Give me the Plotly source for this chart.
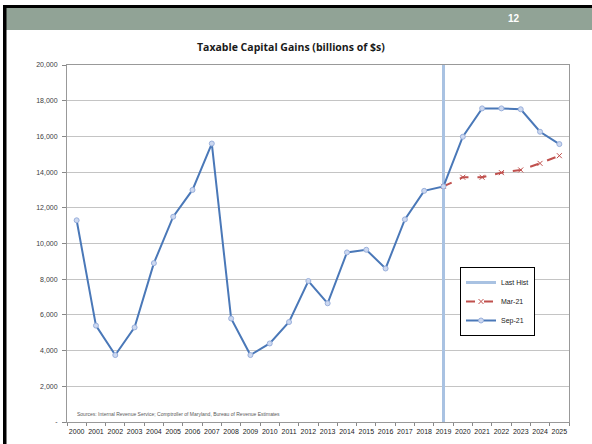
import plotly.graph_objects as go

years = [str(y) for y in range(2000, 2026)]
sep21 = [11300, 5400, 3750, 5300, 8900, 11500, 13000, 15600, 5800, 3750,
         4400, 5600, 7900, 6650, 9500, 9650, 8600, 11350, 12950, 13200,
         15980, 17570, 17570, 17520, 16260, 15570]
mar21_years = [str(y) for y in range(2019, 2026)]
mar21 = [13200, 13710, 13710, 13970, 14120, 14490, 14920]
last_hist_x = ["2019", "2019"]
last_hist_y = [0, 20000]
ytick_vals = list(range(0, 20001, 2000))
ytick_text = ["-"] + [f"{v:,}" for v in ytick_vals[1:]]

L, R, T, B = 67, 569, 65, 422
W, H = 592, 444
def px(x):
    return (x - L) / (R - L)
def py(y):
    return (B - y) / (B - T)

fig = go.Figure()
fig.add_trace(go.Scatter(x=last_hist_x, y=last_hist_y, mode="lines", name="Last Hist",
                         line=dict(color="#a9c2e2", width=3)))
fig.add_trace(go.Scatter(x=mar21_years, y=mar21, mode="lines+markers", name="Mar-21",
                         line=dict(color="#c0504d", width=2, dash="dash"),
                         marker=dict(symbol="x-thin", size=5, line=dict(color="#c0504d", width=1))))
fig.add_trace(go.Scatter(x=years, y=sep21, mode="lines+markers", name="Sep-21",
                         line=dict(color="#4a78b8", width=2),
                         marker=dict(symbol="circle", size=5, color="#ccd8f0",
                                     line=dict(color="#9ab0dc", width=1))))

shapes = [
    dict(type="rect", xref="paper", yref="paper", x0=px(6), x1=px(592), y0=py(30), y1=py(8),
         fillcolor="#91a396", line=dict(width=0), layer="below"),
    dict(type="rect", xref="paper", yref="paper", x0=px(3), x1=px(592), y0=py(8), y1=py(5),
         fillcolor="#000000", line=dict(width=0)),
    dict(type="rect", xref="paper", yref="paper", x0=px(3), x1=px(6.5), y0=py(444), y1=py(5),
         fillcolor="#000000", line=dict(width=0)),
]

annotations = [
    dict(text="<b>Taxable Capital Gains (billions of $s)</b>", xref="paper", yref="paper",
         x=px(291), y=py(47), showarrow=False, xanchor="center", yanchor="middle",
         font=dict(size=10.5, color="#1a1a1a", family="Open Sans")),
    dict(text="<b>12</b>", xref="paper", yref="paper", x=px(514), y=py(18), showarrow=False,
         xanchor="center", yanchor="middle", font=dict(size=10, color="white", family="Liberation Sans")),
    dict(text="Sources: Internal Revenue Service; Comptroller of Maryland, Bureau of Revenue Estimates",
         xref="paper", yref="paper", x=px(75), y=py(414), showarrow=False, xanchor="left",
         yanchor="middle", font=dict(size=5, color="#595959", family="Liberation Sans")),
]

fig.update_layout(
    width=W, height=H,
    margin=dict(l=L, r=W - R, t=T, b=H - B, pad=0, autoexpand=False),
    paper_bgcolor="white", plot_bgcolor="white",
    shapes=shapes, annotations=annotations,
    showlegend=True,
    legend=dict(x=px(460), y=py(267), xanchor="left", yanchor="top",
                bordercolor="black", borderwidth=1, bgcolor="white",
                font=dict(size=7, color="#222", family="Liberation Sans"),
                itemwidth=30, tracegroupgap=0),
    xaxis=dict(type="category", categoryorder="array", categoryarray=years,
               tickson="boundaries", ticks="outside", ticklen=3, tickcolor="#888",
               showline=True, linecolor="#999", mirror=True, showgrid=False,
               tickangle=0, ticklabelstandoff=3, automargin=False,
               tickfont=dict(size=7, color="#222", family="Liberation Sans"),
               range=[-0.5, 25.5]),
    yaxis=dict(range=[0, 20000], tickvals=ytick_vals, ticktext=ytick_text,
               ticks="outside", ticklen=4, tickcolor="#888", ticklabelstandoff=3,
               showline=True, linecolor="#999", mirror=True, automargin=False,
               showgrid=True, gridcolor="#c4c4c4", gridwidth=1, zeroline=False,
               tickfont=dict(size=7, color="#404040", family="Liberation Sans")),
)

fig.write_html("out.html")
